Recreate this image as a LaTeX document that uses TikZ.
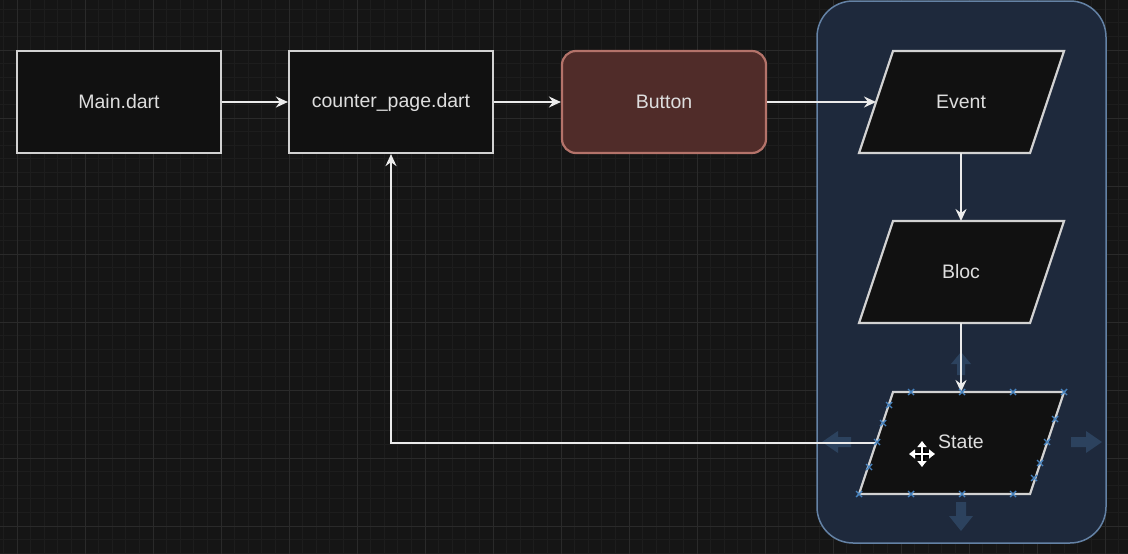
\documentclass[tikz,border=0pt]{standalone}
\usepackage{fontspec}
\setmainfont{Liberation Sans}
\usetikzlibrary{arrows.meta,calc}
\definecolor{bg}{RGB}{21,21,21}
\definecolor{gridminor}{RGB}{29,29,29}
\definecolor{gridmajor}{RGB}{42,42,42}
\definecolor{boxfill}{RGB}{17,17,17}
\definecolor{boxline}{RGB}{210,210,210}
\definecolor{txt}{RGB}{222,222,222}
\definecolor{btnfill}{RGB}{80,44,41}
\definecolor{btnline}{RGB}{180,115,106}
\definecolor{contfill}{RGB}{30,41,60}
\definecolor{contline}{RGB}{100,130,165}
\definecolor{handle}{RGB}{70,130,190}
\definecolor{ghost}{RGB}{44,66,94}
\tikzset{
  box/.style={draw=boxline, fill=boxfill, line width=2.2pt, minimum width=204pt, minimum height=102pt, inner sep=0pt, text=txt, font=\fontsize{19.5}{23}\selectfont},
  btn/.style={box, draw=btnline, fill=btnfill, rounded corners=14pt},
  lbl/.style={inner sep=0pt, text=txt, font=\fontsize{19.5}{23}\selectfont},
  para/.style={draw=boxline, fill=boxfill, line width=2.2pt, line join=miter},
  conn/.style={draw=white!92!black, line width=2pt, -{Stealth[length=12pt,width=11pt,inset=4pt]}},
  hmark/.style={draw=handle, line width=1.4pt},
  ghostarrow/.style={fill=ghost, draw=none},
}
\begin{document}
\begin{tikzpicture}[x=1pt,y=-1pt]
\fill[bg] (0,0) rectangle (1128,554);
\useasboundingbox (0,0) rectangle (1128,554);
% grid
\foreach \k in {0,...,82} \draw[gridminor, line width=0.8pt] ({3.4+13.6*\k},0) -- ({3.4+13.6*\k},554);
\foreach \k in {0,...,40} \draw[gridminor, line width=0.8pt] (0,{9.2+13.6*\k}) -- (1128,{9.2+13.6*\k});
\foreach \k in {0,...,16} \draw[gridmajor, line width=1pt] ({17+68*\k},0) -- ({17+68*\k},554);
\foreach \k in {0,...,7} \draw[gridmajor, line width=1pt] (0,{50+68*\k}) -- (1128,{50+68*\k});

% container
\draw[fill=contfill, draw=contline, line width=1.5pt, rounded corners=36pt] (817,1) rectangle (1106,543);

% rectangles
\node[box] (main) at (119,102) {Main.dart};
\node[box] (counter) at (391,102) {counter\_page.dart};
\node[btn] (button) at (664,102) {Button};

% parallelograms
\draw[para] (893,51) -- (1064,51) -- (1030,153) -- (859,153) -- cycle;
\node[lbl] (event) at (961,102) {Event};
\draw[para] (893,221) -- (1064,221) -- (1030,323) -- (859,323) -- cycle;
\node[lbl] (bloc) at (961,272) {Bloc};
\draw[para] (893,392) -- (1064,392) -- (1030,494) -- (859,494) -- cycle;
\node[lbl] (state) at (961,442) {State};

\coordinate (eventL) at (876,102);
\coordinate (eventB) at (961,153);
\coordinate (blocT) at (961,221);
\coordinate (blocB) at (961,323);
\coordinate (stateT) at (961,392);
\coordinate (stateL) at (876,443);

% ghost arrows around State
\fill[ghostarrow] (957,375) -- (957,364) -- (951,364) -- (961,352) -- (971,364) -- (965,364) -- (965,375) -- cycle;
\fill[ghostarrow] (956,502) -- (956,516) -- (949,516) -- (961,531) -- (973,516) -- (966,516) -- (966,502) -- cycle;
\fill[ghostarrow] (851,437) -- (838,437) -- (838,431) -- (822,442) -- (838,453) -- (838,447) -- (851,447) -- cycle;
\fill[ghostarrow] (1071,437) -- (1086,437) -- (1086,431) -- (1102,442) -- (1086,453) -- (1086,447) -- (1071,447) -- cycle;

% connectors
\draw[conn] (main) -- (counter);
\draw[conn] (counter) -- (button);
\draw[conn] (button) -- (eventL);
\draw[conn] (eventB) -- (blocT);
\draw[conn] (blocB) -- (stateT);
\draw[conn] (stateL) -| (counter.south);

% selection handles on State
\foreach \p in {(911,392),(962,392),(1013,392),(1064,392),(859,494),(911,494),(962,494),(1013,494),(889,405),(883,423),(877,442),(869,467),(1055,419),(1047,442),(1040,463),(1034,478)} {
  \draw[hmark] \p ++(-3,-3) -- ++(6,6);
  \draw[hmark] \p ++(-3,3) -- ++(6,-6);
}

% move cursor
\begin{scope}[shift={(922,454)}]
  \draw[black, line width=5pt] (-11,0) -- (11,0) (0,-11) -- (0,11);
  \draw[white, line width=2pt, {Triangle[length=6pt,width=9pt]}-{Triangle[length=6pt,width=9pt]}] (-13,0) -- (13,0);
  \draw[white, line width=2pt, {Triangle[length=6pt,width=9pt]}-{Triangle[length=6pt,width=9pt]}] (0,-13) -- (0,13);
\end{scope}
\end{tikzpicture}
\end{document}
